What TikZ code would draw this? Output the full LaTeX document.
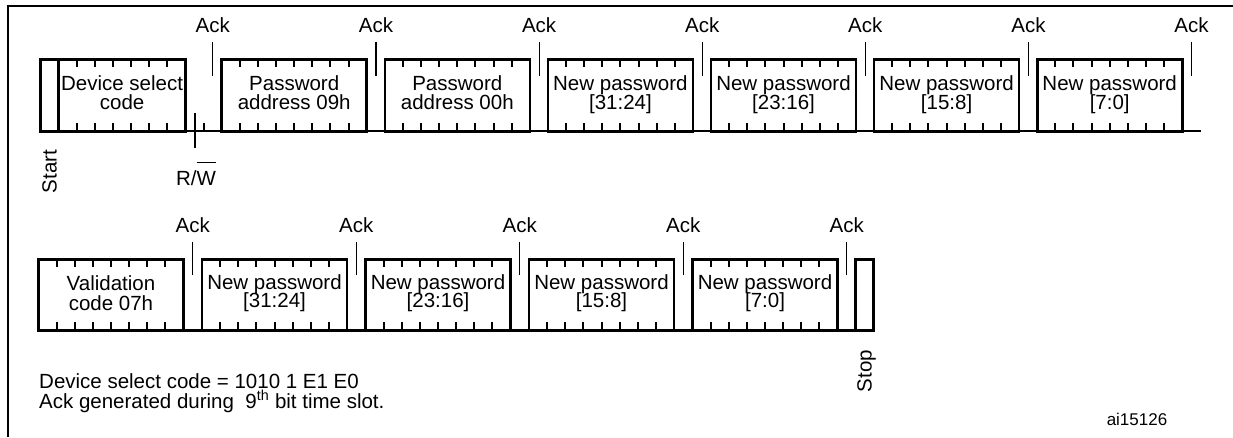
\documentclass[tikz,border=0pt]{standalone}
\usepackage{fontspec}
\setmainfont{Liberation Sans}
\usetikzlibrary{calc}
\begin{document}
\begin{tikzpicture}[x=1pt,y=-1pt,
  frameline/.style={line width=2pt},
  framebox/.style={draw,line width=2.6pt,minimum height=72pt,inner sep=0pt,outer sep=0pt,anchor=north west},
  busline/.style={line width=2.6pt},
  tickmark/.style={line width=2pt},
  ackmark/.style={line width=1.2pt},
  txt/.style={font=\fontsize{20.5}{20}\selectfont,inner sep=0pt,anchor=base},
  smalltxt/.style={font=\fontsize{17}{17}\selectfont,inner sep=0pt,anchor=base},
]
\fill[white] (0,0) rectangle (1233,437);
\useasboundingbox (0,0) rectangle (1233,437);
% frame
\draw[frameline] (8.3,437) -- (8.3,6) -- (1233,6);

% ---------------- Row 1 ----------------
\draw[busline] (40.5,131) -- (1200.5,131);
\node[framebox,minimum width=18.1pt,minimum height=72pt] (start) at (40.5,59.3) {};
\node[framebox,minimum width=127pt] (dev) at (58.6,59.3) {};
\node[txt] (devl1) at ($(dev.north)+(0,31)$) {Device select};
\node[txt] (devl2) at ($(dev.north)+(0,50)$) {code};
\foreach \k in {1,...,6} {
  \draw[tickmark] ($(dev.north west)+(\k*18.14,0)$) -- ++(0,7.5);
  \draw[tickmark] ($(dev.south west)+(\k*18.14,0)$) -- ++(0,-8);
}
% R/W bit
\draw[tickmark] (195,113) -- (195,148);
\draw[tickmark] (203.5,131) -- (203.5,123);
\node[txt] (rw) at (196,185) {R/\rlap{\rule[22pt]{19pt}{1.3pt}}W};
% first ack
\node[txt] (ack0) at (212.7,32) {Ack};
\draw[ackmark] (212.7,41.5) -- (212.7,75.5);
% Start label
\node[font=\fontsize{20.5}{20}\selectfont,inner sep=0pt,rotate=90] (startl) at (49.5,171.5) {Start};

\foreach \i/\la/\lb in {0/Password/address 09h,1/Password/address 00h,2/New password/{[31:24]},3/New password/{[23:16]},4/New password/{[15:8]},5/New password/{[7:0]}} {
  \pgfmathsetmacro\bx{221.7+163.1*\i}
  \node[framebox,minimum width=145pt] (ra\i) at (\bx,59.3) {};
  \node[txt] (ra\i-l1) at ($(ra\i.north)+(0,31)$) {\la};
  \node[txt] (ra\i-l2) at ($(ra\i.north)+(0,50)$) {\lb};
  \foreach \k in {1,...,7} {
    \draw[tickmark] ($(ra\i.north west)+(\k*18.125,0)$) -- ++(0,7.5);
    \draw[tickmark] ($(ra\i.south west)+(\k*18.125,0)$) -- ++(0,-8);
  }
  \node[txt] (ra\i-ack) at ($(ra\i.north east)+(9.3,-27.3)$) {Ack};
  \draw[ackmark] ($(ra\i.north east)+(9.3,-17.8)$) -- ++(0,34);
}

% ---------------- Row 2 ----------------
\draw[busline] (38.5,330.5) -- (873.3,330.5);
\foreach \i/\la/\lb/\da/\db in {0/Validation/code 07h/31/51,1/New password/{[31:24]}/30/48,2/New password/{[23:16]}/30/48,3/New password/{[15:8]}/30/48,4/New password/{[7:0]}/30/48} {
  \pgfmathsetmacro\bx{38.5+163.5*\i}
  \node[framebox,minimum width=145pt,minimum height=71pt] (rb\i) at (\bx,259.3) {};
  \node[txt] (rb\i-l1) at ($(rb\i.north)+(0,\da)$) {\la};
  \node[txt] (rb\i-l2) at ($(rb\i.north)+(0,\db)$) {\lb};
  \foreach \k in {1,...,7} {
    \draw[tickmark] ($(rb\i.north west)+(\k*18.125,0)$) -- ++(0,7.5);
    \draw[tickmark] ($(rb\i.south west)+(\k*18.125,0)$) -- ++(0,-8);
  }
  \node[txt] (rb\i-ack) at ($(rb\i.north east)+(9.2,-27.3)$) {Ack};
  \draw[ackmark] ($(rb\i.north east)+(9.2,-17.6)$) -- ++(0,33.3);
}
\node[framebox,minimum width=17.6pt,minimum height=71pt] (stop) at (855.7,259.3) {};
\node[font=\fontsize{20.5}{20}\selectfont,inner sep=0pt,rotate=90] (stopl) at (866.5,371) {Stop};

% notes
\node[txt,anchor=base west] (note1) at (39,388) {Device select code = 1010 1 E1 E0};
\node[txt,anchor=base west] (note2) at (39,408) {Ack generated during\ \ 9\textsuperscript{th} bit time slot.};
\node[smalltxt] (ref) at (1137,425) {ai15126};
\end{tikzpicture}
\end{document}
